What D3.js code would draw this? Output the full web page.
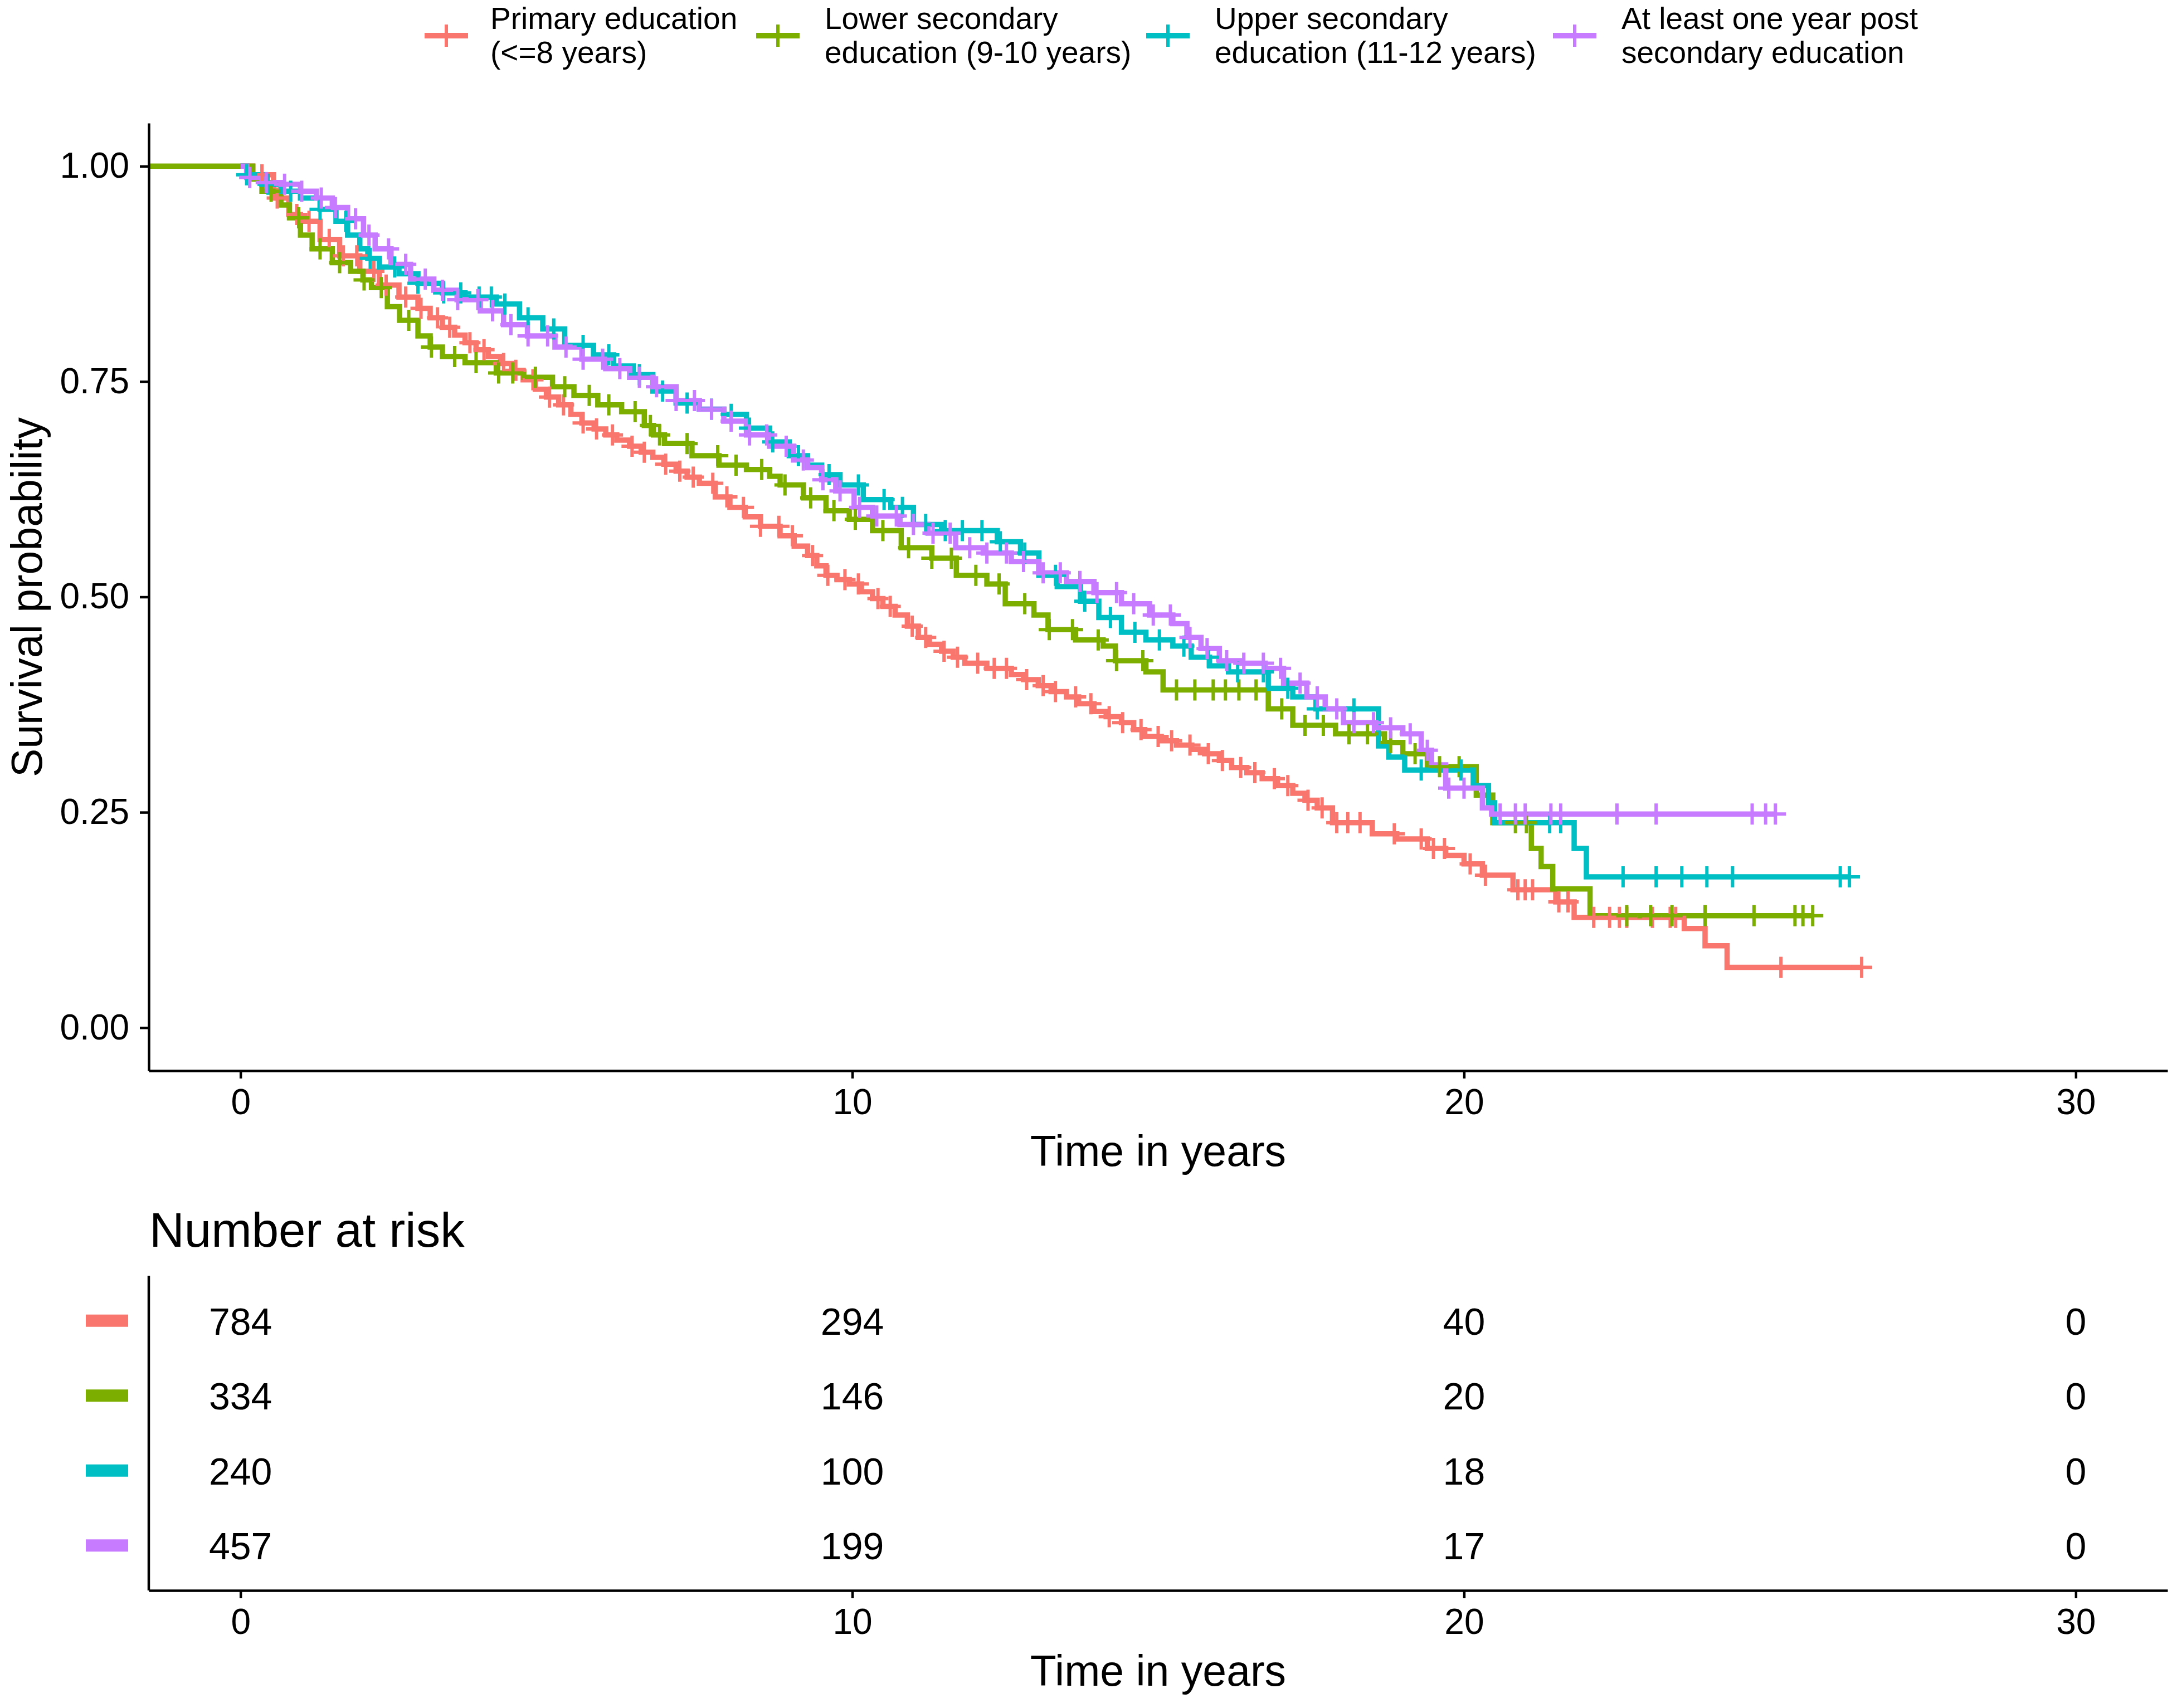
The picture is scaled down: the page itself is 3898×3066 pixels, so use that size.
<!DOCTYPE html>
<html>
<head>
<meta charset="utf-8">
<title>Survival by education</title>
<script src="https://cdn.jsdelivr.net/npm/d3@7"></script>
<style>
  body { margin: 0; background: white; }
  svg { display: block; font-family: "Liberation Sans", Arial, sans-serif; }
  .axis path, .axis line { stroke: black; }
  .axis text { fill: black; }
</style>
</head>
<body>
<script>
// groups, colours (ggplot hue palette)
var groups = ["primary", "lower", "upper", "post"];
var colors = ["#F8766D", "#7CAE00", "#00BFC4", "#C77CFF"];
var legendLines = [
  ["Primary education", "(<=8 years)"],
  ["Lower secondary", "education (9-10 years)"],
  ["Upper secondary", "education (11-12 years)"],
  ["At least one year post", "secondary education"]
];

// Kaplan-Meier steps: [time, survival after step]
var primarySteps = [[0,1],[0.2,0.99],[0.54,0.963],[0.79,0.944],[0.98,0.936],[1.3,0.915],[1.62,0.896],[1.95,0.878],[2.27,0.862],[2.59,0.848],[2.9,0.835],[3.1,0.824],[3.3,0.813],[3.5,0.804],[3.67,0.795],[3.85,0.787],[4.05,0.779],[4.25,0.771],[4.43,0.763],[4.62,0.752],[4.82,0.741],[5.0,0.732],[5.2,0.723],[5.4,0.712],[5.58,0.702],[5.78,0.695],[5.97,0.688],[6.15,0.682],[6.36,0.675],[6.55,0.668],[6.74,0.662],[6.92,0.654],[7.12,0.646],[7.3,0.639],[7.5,0.632],[7.76,0.616],[8.0,0.604],[8.25,0.593],[8.5,0.582],[8.82,0.571],[9.05,0.559],[9.27,0.548],[9.42,0.536],[9.57,0.525],[9.75,0.52],[9.95,0.515],[10.15,0.506],[10.33,0.498],[10.5,0.489],[10.7,0.479],[10.9,0.466],[11.08,0.453],[11.26,0.445],[11.46,0.437],[11.65,0.43],[11.84,0.423],[12.2,0.417],[12.6,0.41],[12.8,0.404],[13.04,0.397],[13.25,0.39],[13.5,0.384],[13.7,0.376],[13.95,0.367],[14.15,0.361],[14.4,0.354],[14.6,0.346],[14.78,0.338],[15.05,0.333],[15.3,0.328],[15.55,0.323],[15.76,0.318],[16.0,0.31],[16.2,0.302],[16.45,0.296],[16.7,0.289],[16.95,0.281],[17.2,0.272],[17.4,0.264],[17.6,0.255],[17.85,0.238],[18.5,0.225],[18.9,0.219],[19.4,0.208],[19.7,0.2],[20.0,0.19],[20.3,0.177],[20.8,0.16],[21.5,0.146],[21.8,0.128],[23.6,0.115],[23.94,0.095],[24.3,0.07]];
var lowerSteps = [[-1.5,1],[0.2,0.985],[0.35,0.971],[0.66,0.955],[0.8,0.94],[0.98,0.92],[1.17,0.904],[1.5,0.888],[1.8,0.878],[2.0,0.868],[2.14,0.859],[2.4,0.837],[2.6,0.821],[2.9,0.803],[3.1,0.79],[3.3,0.779],[3.67,0.772],[4.18,0.76],[4.63,0.755],[5.1,0.744],[5.45,0.734],[5.84,0.723],[6.23,0.715],[6.6,0.699],[6.75,0.688],[6.93,0.678],[7.38,0.664],[7.82,0.653],[8.27,0.648],[8.65,0.64],[8.82,0.63],[9.2,0.615],[9.57,0.6],[9.95,0.59],[10.33,0.577],[10.8,0.557],[11.3,0.545],[11.7,0.525],[12.2,0.515],[12.5,0.492],[12.97,0.479],[13.2,0.462],[13.65,0.45],[14.1,0.443],[14.3,0.426],[14.8,0.413],[15.08,0.392],[16.8,0.37],[17.2,0.351],[17.9,0.341],[18.7,0.331],[19.0,0.318],[19.4,0.303],[20.2,0.27],[20.47,0.238],[21.1,0.208],[21.26,0.187],[21.45,0.161],[22.06,0.13]];
var upperSteps = [[0,1],[0.1,0.99],[0.35,0.979],[0.66,0.971],[0.98,0.963],[1.3,0.95],[1.56,0.936],[1.75,0.92],[1.95,0.904],[2.08,0.893],[2.27,0.883],[2.59,0.875],[2.9,0.864],[3.3,0.853],[3.67,0.848],[4.18,0.84],[4.56,0.824],[4.94,0.811],[5.3,0.792],[5.77,0.781],[6.1,0.768],[6.42,0.758],[6.74,0.739],[7.12,0.725],[7.5,0.718],[7.9,0.712],[8.27,0.696],[8.65,0.68],[8.97,0.664],[9.27,0.653],[9.5,0.642],[9.8,0.63],[10.18,0.613],[10.63,0.604],[11.0,0.584],[11.46,0.577],[12.37,0.564],[12.75,0.551],[13.05,0.525],[13.35,0.512],[13.73,0.495],[14.03,0.476],[14.4,0.459],[14.8,0.45],[15.24,0.443],[15.54,0.43],[15.84,0.42],[16.15,0.413],[16.8,0.394],[17.2,0.384],[17.58,0.37],[18.6,0.327],[18.77,0.314],[19.03,0.299],[20.15,0.281],[20.4,0.261],[20.5,0.238],[21.8,0.208],[22.0,0.175]];
var postSteps = [[0,1],[0.1,0.987],[0.35,0.981],[0.66,0.979],[0.98,0.971],[1.24,0.963],[1.5,0.952],[1.75,0.939],[2.01,0.92],[2.2,0.904],[2.46,0.886],[2.78,0.869],[3.16,0.856],[3.54,0.845],[3.92,0.832],[4.3,0.816],[4.69,0.803],[5.14,0.79],[5.58,0.776],[5.97,0.765],[6.36,0.755],[6.74,0.744],[7.12,0.728],[7.5,0.718],[7.9,0.704],[8.27,0.688],[8.65,0.675],[9.04,0.659],[9.27,0.65],[9.5,0.636],[9.73,0.623],[10.03,0.604],[10.33,0.594],[10.78,0.584],[11.24,0.574],[11.69,0.557],[12.14,0.551],[12.6,0.541],[13.05,0.528],[13.5,0.518],[13.95,0.505],[14.4,0.492],[14.86,0.479],[15.24,0.469],[15.47,0.453],[15.7,0.44],[16.0,0.426],[16.37,0.423],[16.75,0.417],[17.05,0.4],[17.43,0.384],[17.73,0.37],[18.03,0.354],[18.56,0.348],[19.0,0.341],[19.3,0.322],[19.47,0.305],[19.7,0.278],[20.3,0.255],[20.45,0.248]];

// last follow-up time of each curve
var endTimes = [26.5, 25.7, 26.3, 25.1];

// censoring times ("+" marks)
var primaryCensor = [0.35,0.6,0.92,1.12,1.45,1.68,1.9,2.18,2.38,2.7,2.95,3.22,3.42,3.75,3.98,4.3,4.5,4.78,5.05,5.28,5.6,5.82,6.08,6.4,6.6,6.95,7.18,7.4,7.72,7.95,8.22,8.5,8.8,9.02,9.35,9.6,9.88,10.1,10.42,10.62,10.98,11.2,11.5,11.72,12.05,12.32,12.52,12.85,13.12,13.32,13.65,13.9,14.2,14.42,14.72,15.0,15.22,15.52,15.82,16.05,16.35,16.58,16.9,17.12,17.45,17.68,17.92,18.1,18.3,18.86,19.3,19.5,19.68,20.1,20.35,20.88,21.0,21.12,21.55,21.7,22.12,22.38,22.54,22.66,23.08,23.37,23.46,25.18,26.5];
var lowerCensor = [0.5,0.95,1.3,1.62,2.02,2.3,2.75,3.12,3.5,3.85,4.22,4.45,4.82,5.3,5.7,6.02,6.45,6.7,6.85,7.3,7.8,8.1,8.52,8.9,9.32,9.7,10.05,10.5,10.92,11.3,11.62,12.02,12.4,12.82,13.22,13.6,14.02,14.32,14.75,15.3,15.6,15.9,16.1,16.32,16.6,17.02,17.4,17.7,18.12,18.42,18.8,19.2,19.6,19.92,20.84,21.02,22.66,23.05,23.4,23.94,24.74,25.41,25.54,25.7];
var upperCensor = [0.1,0.45,0.82,1.3,1.72,2.12,2.52,2.9,3.32,3.6,3.9,4.1,4.32,4.7,5.12,5.6,6.02,6.52,6.9,7.3,7.7,8.02,8.32,8.7,9.12,9.62,10.1,10.52,10.82,11.2,11.52,11.8,12.12,12.42,12.82,13.32,13.8,14.22,14.62,15.02,15.42,15.82,16.3,16.72,17.12,17.6,18.2,19.3,19.95,21.4,21.58,22.6,23.14,23.56,23.97,24.39,26.15,26.3];
var postCensor = [0.15,0.42,0.72,1.0,1.32,1.55,1.88,2.1,2.42,2.7,3.02,3.3,3.55,3.88,4.12,4.42,4.7,5.02,5.32,5.6,5.92,6.2,6.52,6.8,7.12,7.42,7.7,8.02,8.32,8.6,8.92,9.2,9.52,9.8,10.12,10.4,10.72,11.0,11.32,11.6,11.92,12.2,12.52,12.8,13.12,13.4,13.72,14.0,14.32,14.6,14.92,15.2,15.52,15.8,16.12,16.4,16.72,17.0,17.32,17.6,17.92,18.2,18.52,18.8,19.12,19.4,19.75,20.0,20.59,20.84,21.0,21.42,21.58,22.5,23.14,24.71,24.93,25.09];

// number at risk table
var riskTimes = [0, 10, 20, 30];
var riskPrimary = [784, 294, 40, 0];
var riskLower = [334, 146, 20, 0];
var riskUpper = [240, 100, 18, 0];
var riskPost = [457, 199, 17, 0];

var xTicks = [0, 10, 20, 30];
var yTicks = [0, 0.25, 0.5, 0.75, 1];

var allSteps = [primarySteps, lowerSteps, upperSteps, postSteps];
var allCensor = [primaryCensor, lowerCensor, upperCensor, postCensor];
var allRisk = [riskPrimary, riskLower, riskUpper, riskPost];

var width = 3898, height = 3066;
var svg = d3.select("body").append("svg")
    .attr("width", width)
    .attr("height", height);

var left = 267, right = 3890;
var x = d3.scaleLinear().domain([-1.5, 31.5]).range([left, right]);
var y = d3.scaleLinear().domain([-0.05, 1.05]).range([1922, 221]);

// ---------- legend ----------
var legendKeyX = [762, 1357, 2057, 2787];
var legendTextX = [880, 1480, 2180, 2910];
var legend = svg.append("g");
groups.forEach(function(g, i) {
  var kx = legendKeyX[i], ky = 64;
  legend.append("line")
    .attr("x1", kx).attr("x2", kx + 78)
    .attr("y1", ky).attr("y2", ky)
    .attr("stroke", colors[i]).attr("stroke-width", 10);
  legend.append("path")
    .attr("d", "M" + (kx + 39) + "," + (ky - 20) + "V" + (ky + 20))
    .attr("stroke", colors[i]).attr("stroke-width", 6);
  var t = legend.append("text")
    .attr("x", legendTextX[i]).attr("y", 52)
    .attr("font-size", 55).attr("fill", "black");
  t.append("tspan").attr("x", legendTextX[i]).attr("y", 52).text(legendLines[i][0]);
  t.append("tspan").attr("x", legendTextX[i]).attr("y", 113).text(legendLines[i][1]);
});

// ---------- survival curves ----------
var line = d3.line()
  .x(function(d) { return x(d[0]); })
  .y(function(d) { return y(d[1]); })
  .curve(d3.curveStepAfter);

var bis = d3.bisector(function(d) { return d[0]; }).right;
function survAt(steps, t) {
  var i = bis(steps, t) - 1;
  return steps[Math.max(0, i)][1];
}

var curves = svg.append("g");
allSteps.forEach(function(steps, i) {
  var pts = steps.concat([[endTimes[i], steps[steps.length - 1][1]]]);
  curves.append("path")
    .datum(pts)
    .attr("d", line)
    .attr("fill", "none")
    .attr("stroke", colors[i])
    .attr("stroke-width", 9.5);
});

var cs = 19;
allCensor.forEach(function(times, i) {
  curves.append("g").selectAll("path")
    .data(times)
    .enter().append("path")
    .attr("d", function(t) {
      var cx = x(t), cy = y(survAt(allSteps[i], t));
      return "M" + (cx - cs) + "," + cy + "H" + (cx + cs) + "M" + cx + "," + (cy - cs) + "V" + (cy + cs);
    })
    .attr("stroke", colors[i])
    .attr("stroke-width", 6)
    .attr("fill", "none");
});

// ---------- axes of survival plot ----------
var yAxis = svg.append("g").attr("class", "axis")
  .attr("transform", "translate(" + left + ",0)")
  .call(d3.axisLeft(y).tickValues(yTicks).tickFormat(d3.format(".2f"))
        .tickSize(16).tickSizeOuter(0).tickPadding(19));
var xAxis = svg.append("g").attr("class", "axis")
  .attr("transform", "translate(0,1922)")
  .call(d3.axisBottom(x).tickValues(xTicks).tickSize(14).tickSizeOuter(0).tickPadding(19));
[yAxis, xAxis].forEach(function(a) {
  a.select(".domain").attr("stroke-width", 4.5);
  a.selectAll(".tick line").attr("stroke-width", 4.5);
  a.selectAll("text").attr("font-size", 64).attr("font-family", "Liberation Sans, Arial, sans-serif");
});

svg.append("text")
  .attr("transform", "translate(48,1072) rotate(-90)")
  .attr("text-anchor", "middle").attr("dy", "0.35em")
  .attr("font-size", 77).text("Survival probability");
svg.append("text")
  .attr("x", (left + right) / 2).attr("y", 2093)
  .attr("text-anchor", "middle")
  .attr("font-size", 77).text("Time in years");

// ---------- risk table ----------
svg.append("text")
  .attr("x", 268).attr("y", 2238)
  .attr("font-size", 87).text("Number at risk");

var ry = d3.scalePoint().domain(groups).range([2290, 2855]).padding(0.6);

var table = svg.append("g");
groups.forEach(function(g, i) {
  table.append("rect")
    .attr("x", 154).attr("width", 76)
    .attr("y", ry(g) - 11).attr("height", 22)
    .attr("fill", colors[i]);
  table.selectAll(null)
    .data(riskTimes)
    .enter().append("text")
    .attr("x", function(t) { return x(t); })
    .attr("y", ry(g) + 25)
    .attr("text-anchor", "middle")
    .attr("font-size", 68)
    .text(function(t, j) { return allRisk[i][j]; });
});

svg.append("line")
  .attr("x1", left).attr("x2", left)
  .attr("y1", 2290).attr("y2", 2855)
  .attr("stroke", "black").attr("stroke-width", 4.5);
var rAxis = svg.append("g").attr("class", "axis")
  .attr("transform", "translate(0,2855)")
  .call(d3.axisBottom(x).tickValues(xTicks).tickSize(14).tickSizeOuter(0).tickPadding(19));
rAxis.select(".domain").attr("stroke-width", 4.5);
rAxis.selectAll(".tick line").attr("stroke-width", 4.5);
rAxis.selectAll("text").attr("font-size", 64).attr("font-family", "Liberation Sans, Arial, sans-serif");

svg.append("text")
  .attr("x", (left + right) / 2).attr("y", 3026)
  .attr("text-anchor", "middle")
  .attr("font-size", 77).text("Time in years");
</script>
</body>
</html>
